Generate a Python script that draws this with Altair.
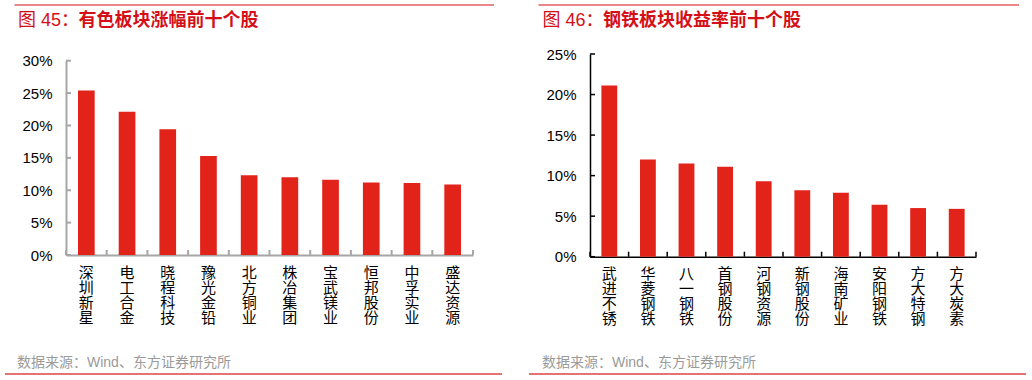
import altair as alt
import pandas as pd

left_names = ["深圳新星", "电工合金", "晓程科技", "豫光金铅", "北方铜业",
              "株冶集团", "宝武镁业", "恒邦股份", "中孚实业", "盛达资源"]
left_values = [25.4, 22.1, 19.4, 15.3, 12.3, 12.0, 11.6, 11.2, 11.1, 10.9]
left_ticks = [0, 5, 10, 15, 20, 25, 30]

right_names = ["武进不锈", "华菱钢铁", "八一钢铁", "首钢股份", "河钢资源",
               "新钢股份", "海南矿业", "安阳钢铁", "方大特钢", "方大炭素"]
right_values = [21.1, 12.0, 11.5, 11.1, 9.3, 8.2, 7.9, 6.4, 6.0, 5.9]
right_ticks = [0, 5, 10, 15, 20, 25]

title_prefixes = ["图 45：", "图 46："]
title_mains = ["有色板块涨幅前十个股", "钢铁板块收益率前十个股"]
source = "数据来源：Wind、东方证券研究所"

FONT = "Liberation Sans, Arial, Noto Sans CJK SC"
BAR = "#e2231a"
TITLE_RED = "#d40f17"
PW, PH = 516, 380


def panel(names, values, ticks, ax0, ax1, y0, y1, axis_color, axis_w,
          prefix, main, title_x, main_x, line_x0, line_x1, src_x, bot_x0, bot_x1):
    df = pd.DataFrame({"name": names, "v": values})
    tdf = pd.DataFrame({"v": ticks})
    one = pd.DataFrame({"p": [prefix], "t": [main], "s": [source]})

    xscale = alt.Scale(range=[ax0, ax1], paddingInner=0, paddingOuter=0)
    yscale = alt.Scale(domain=[ticks[0], ticks[-1]], range=[y0, y1], nice=False)

    xaxis = alt.Axis(orient="bottom", offset=-(PH - y0), ticks=False,
                     domainColor=axis_color, domainWidth=axis_w,
                     labelAngle=0, labelExpr="split(datum.label, '')",
                     labelLineHeight=15, labelPadding=10, labelBaseline="top",
                     labelFontSize=15, labelFont=FONT, labelColor="#000",
                     title=None)
    yaxis = alt.Axis(orient="left", offset=-ax0, ticks=False, values=ticks,
                     domainColor=axis_color, domainWidth=axis_w, grid=False,
                     labelExpr="datum.value + '%'", labelPadding=14,
                     labelFontSize=15, labelFont=FONT, labelColor="#000",
                     title=None)

    xenc = alt.X("name:N", sort=names, scale=xscale, axis=xaxis)
    yenc = alt.Y("v:Q", scale=yscale, axis=yaxis)

    bars = alt.Chart(df).mark_bar(color=BAR, width=alt.RelativeBandSize(0.41)).encode(
        x=xenc, y=yenc)

    yt = alt.Chart(tdf).mark_rule(color=axis_color, strokeWidth=axis_w).encode(
        y=yenc, x=alt.value(ax0), x2=alt.value(ax0 + 5))

    xt = alt.Chart(df).mark_rule(color=axis_color, strokeWidth=axis_w).encode(
        x=alt.X("name:N", sort=names, scale=xscale, axis=xaxis, bandPosition=0),
        y=alt.value(y0), y2=alt.value(y0 - 5))
    xt_end = alt.Chart(df.tail(1)).mark_rule(color=axis_color, strokeWidth=axis_w).encode(
        x=alt.X("name:N", sort=names, scale=xscale, axis=xaxis, bandPosition=1),
        y=alt.value(y0), y2=alt.value(y0 - 5))

    ttl_p = alt.Chart(one).mark_text(align="left", baseline="middle", fontSize=18,
                                     font=FONT, color=TITLE_RED).encode(
        text="p:N", x=alt.value(title_x), y=alt.value(21))
    ttl = alt.Chart(one).mark_text(align="left", baseline="middle", fontSize=18,
                                   fontWeight="bold", font=FONT, color=TITLE_RED).encode(
        text="t:N", x=alt.value(main_x), y=alt.value(21))
    topline = alt.Chart(one).mark_rule(color=TITLE_RED, strokeWidth=1).encode(
        x=alt.value(line_x0), x2=alt.value(line_x1), y=alt.value(5))
    src = alt.Chart(one).mark_text(align="left", baseline="middle", fontSize=14,
                                   font=FONT, color="#9a9a9a").encode(
        text="s:N", x=alt.value(src_x), y=alt.value(363))
    botline = alt.Chart(one).mark_rule(color="#e57373", strokeWidth=2).encode(
        x=alt.value(bot_x0), x2=alt.value(bot_x1), y=alt.value(374))

    return alt.layer(bars, yt, xt, xt_end, ttl_p, ttl, topline, src, botline).properties(
        width=PW, height=PH)


left = panel(left_names, left_values, left_ticks, 66, 473, 255, 60.7,
             "#a6a6a6", 2, title_prefixes[0], title_mains[0], 18, 78.5,
             14.5, 494, 17, 5, 502)
right = panel(right_names, right_values, right_ticks, 74, 460, 256.7, 54,
              "#000000", 1.5, title_prefixes[1], title_mains[1], 26.5, 87,
              22.5, 503, 26, 13, 510)

chart = alt.hconcat(left, right, spacing=0).properties(padding=0).configure_view(
    stroke=None)

chart.save("out.html", embed_options={"renderer": "svg", "actions": False})
